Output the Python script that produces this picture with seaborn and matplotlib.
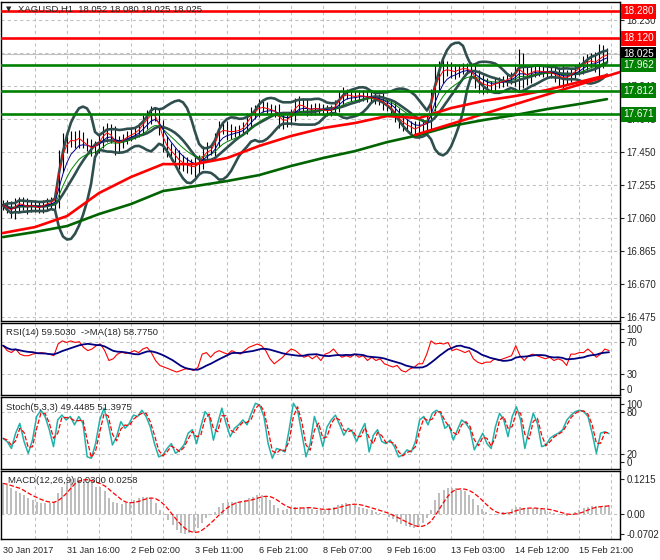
import numpy as np
import pandas as pd
import seaborn as sns
import matplotlib.pyplot as plt
from matplotlib.transforms import blended_transform_factory

# ---- price data (one bar = 2 hours) ----
close = [17.135, 17.117, 17.100, 17.129, 17.153, 17.135, 17.123, 17.135, 17.123, 17.117,
         17.135, 17.147, 17.153, 17.176, 17.401, 17.490, 17.519, 17.531, 17.513, 17.537,
         17.501, 17.484, 17.466, 17.484, 17.513, 17.560, 17.572, 17.543, 17.490, 17.501,
         17.525, 17.543, 17.555, 17.566, 17.590, 17.626, 17.655, 17.679, 17.661, 17.590,
         17.501, 17.460, 17.442, 17.419, 17.389, 17.377, 17.366, 17.360, 17.360, 17.389,
         17.442, 17.460, 17.466, 17.519, 17.590, 17.584, 17.572, 17.566, 17.572, 17.578,
         17.596, 17.637, 17.673, 17.696, 17.720, 17.714, 17.702, 17.696, 17.685, 17.643,
         17.626, 17.637, 17.673, 17.726, 17.738, 17.720, 17.702, 17.696, 17.708, 17.702,
         17.696, 17.690, 17.696, 17.726, 17.767, 17.791, 17.791, 17.779, 17.773, 17.785,
         17.779, 17.773, 17.767, 17.761, 17.756, 17.738, 17.720, 17.702, 17.667, 17.631,
         17.614, 17.602, 17.590, 17.578, 17.602, 17.614, 17.631, 17.773, 17.886, 17.915,
         17.945, 17.939, 17.927, 17.921, 17.939, 17.945, 17.939, 17.921, 17.874, 17.856,
         17.844, 17.838, 17.838, 17.856, 17.862, 17.868, 17.880, 17.891, 17.915, 17.956,
         17.909, 17.897, 17.921, 17.933, 17.927, 17.921, 17.921, 17.915, 17.903, 17.891,
         17.886, 17.891, 17.909, 17.933, 17.951, 17.974, 17.986, 17.992, 17.974, 18.004,
         18.021, 18.025]

wick = [0.03, 0.03, 0.04, 0.05, 0.03, 0.03, 0.04, 0.03, 0.03, 0.03,
        0.03, 0.03, 0.03, 0.04, 0.06, 0.07, 0.05, 0.04, 0.04, 0.04,
        0.03, 0.03, 0.04, 0.03, 0.04, 0.04, 0.05, 0.04, 0.06, 0.04,
        0.03, 0.03, 0.03, 0.03, 0.03, 0.04, 0.04, 0.04, 0.03, 0.04,
        0.05, 0.04, 0.04, 0.03, 0.04, 0.04, 0.04, 0.04, 0.06, 0.04,
        0.04, 0.05, 0.03, 0.04, 0.04, 0.03, 0.05, 0.04, 0.03, 0.03,
        0.03, 0.04, 0.04, 0.03, 0.04, 0.03, 0.03, 0.03, 0.03, 0.05,
        0.04, 0.03, 0.03, 0.04, 0.04, 0.03, 0.04, 0.03, 0.03, 0.03,
        0.03, 0.03, 0.03, 0.03, 0.04, 0.04, 0.03, 0.03, 0.03, 0.03,
        0.03, 0.03, 0.03, 0.03, 0.03, 0.04, 0.03, 0.04, 0.04, 0.04,
        0.04, 0.03, 0.03, 0.04, 0.03, 0.03, 0.04, 0.05, 0.08, 0.07,
        0.06, 0.04, 0.04, 0.04, 0.03, 0.03, 0.03, 0.04, 0.05, 0.06,
        0.05, 0.04, 0.03, 0.03, 0.03, 0.03, 0.03, 0.03, 0.05, 0.10,
        0.08, 0.05, 0.04, 0.03, 0.03, 0.03, 0.03, 0.03, 0.04, 0.05,
        0.07, 0.04, 0.03, 0.03, 0.03, 0.04, 0.04, 0.04, 0.05, 0.08,
        0.06, 0.04]

# long moving averages, one value every 8 bars (last one at the final bar)
ma_bar = [0, 8, 16, 24, 32, 40, 48, 56, 64, 72, 80, 88, 96, 104, 112, 120, 128, 136, 144, 151]
ma_red = [16.970, 17.005, 17.070, 17.206, 17.301, 17.377, 17.377, 17.413, 17.484, 17.543,
          17.590, 17.620, 17.661, 17.649, 17.708, 17.750, 17.779, 17.815, 17.862, 17.903]
ma_green = [16.946, 16.976, 17.011, 17.082, 17.141, 17.218, 17.247, 17.277, 17.312, 17.366,
            17.413, 17.454, 17.507, 17.549, 17.602, 17.637, 17.667, 17.702, 17.732, 17.761]

trend_bar = [103, 154.25]
trend_price = [17.549, 17.921]

levels_red = [18.280, 18.120]
levels_green = [17.962, 17.812, 17.671]
last_price = 18.025
price_ticks = [18.230, 18.035, 17.840, 17.645, 17.450, 17.255, 17.060, 16.865, 16.670, 16.475]

date_labels = ["30 Jan 2017", "31 Jan 16:00", "2 Feb 02:00", "3 Feb 11:00", "6 Feb 21:00",
               "8 Feb 07:00", "9 Feb 16:00", "13 Feb 03:00", "14 Feb 12:00", "15 Feb 21:00"]

# ---- indicators ----
rsi = [66, 59.5, 57, 61.6, 55, 53, 53, 55, 56, 57, 56, 55, 53, 68, 72, 70, 72, 70, 71, 63.7,
       59.5, 61.6, 65.8, 68, 59.5, 46.8, 49, 55, 57.4, 56, 57, 59.5, 57, 61.6, 63.7, 57, 46.8,
       40.5, 38.4, 36.3, 34, 32, 34, 36, 36, 34, 38, 55, 57, 51, 57, 59.5, 57, 55, 59.5, 57, 55,
       59.5, 63.7, 65.8, 68, 65.8, 59.5, 49, 42.6, 46.8, 51, 57, 61.6, 59.5, 55, 51, 53, 49, 53,
       46.8, 55, 57, 61.6, 55, 51, 53, 51, 55, 51, 53, 46.8, 51, 46.8, 49, 42.6, 40.5, 38.4,
       40.5, 34, 32, 36, 38, 42.6, 42.6, 55, 72, 68, 69, 68, 70, 59.5, 61.6, 59.5, 57, 59.5, 49,
       44.7, 42.6, 44.7, 44.7, 49, 47, 49, 51, 53, 65.8, 53, 46.8, 53, 55, 53, 51, 49, 51, 46.8,
       49, 46.8, 40.5, 55, 55, 57, 57, 61.6, 57, 51, 55, 61.6, 59.5]

stoch_k = [42.6, 37.8, 28, 50, 64, 38, 21, 40, 74, 83, 74, 55, 30.6, 69, 76, 69, 74, 62, 74, 64,
           16, 14, 35, 69, 86, 64, 33, 45, 66.6, 57, 64, 76, 74, 83, 74, 59, 35, 16, 18.6, 28,
           35, 21, 26, 33, 50, 55, 35, 59, 81, 74, 40, 64, 86, 64, 45, 57, 62, 69, 62, 78.6,
           93, 90, 74, 35, 14, 28, 26, 23, 55, 93, 83, 50, 16, 35, 74, 55, 30.6, 59, 69, 76,
           62, 47, 57, 52, 38, 52, 64, 23, 47, 55, 38, 35, 40, 30.6, 16, 18.6, 26, 23, 38, 69,
           74, 62, 78.6, 83, 78.6, 57, 62, 40, 55, 69, 64, 55, 26, 38, 50, 35, 28, 59, 78.6, 69,
           45, 74, 88, 69, 28, 55, 78.6, 64, 30.6, 33, 42.6, 47, 50, 55, 69, 76, 81, 83, 81, 74,
           50, 21, 50, 52, 49.4]

macd_hist = [0.106, 0.100, 0.089, 0.078, 0.072, 0.066, 0.054, 0.049, 0.043, 0.039,
             0.037, 0.039, 0.043, 0.072, 0.095, 0.112, 0.1215, 0.124, 0.118, 0.118,
             0.112, 0.106, 0.095, 0.095, 0.078, 0.054, 0.043, 0.037, 0.034, 0.037,
             0.043, 0.049, 0.054, 0.060, 0.060, 0.054, 0.037, 0.014, -0.0035, -0.021,
             -0.038, -0.056, -0.067, -0.0702, -0.067, -0.061, -0.050, -0.032, -0.015, -0.0035,
             0.008, 0.025, 0.037, 0.043, 0.043, 0.043, 0.043, 0.049, 0.054, 0.060,
             0.066, 0.066, 0.060, 0.049, 0.031, 0.020, 0.014, 0.016, 0.020, 0.025,
             0.025, 0.020, 0.020, 0.016, 0.014, 0.014, 0.016, 0.020, 0.025, 0.031,
             0.035, 0.037, 0.035, 0.031, 0.025, 0.020, 0.016, 0.014, 0.008, 0.002,
             -0.0035, -0.009, -0.0185, -0.027, -0.035, -0.042, -0.046, -0.050, -0.044, -0.032,
             -0.015, 0.014, 0.049, 0.074, 0.083, 0.089, 0.091, 0.089, 0.083, 0.078,
             0.066, 0.051, 0.031, 0.016, 0.005, 0.0, -0.0035, 0.0, 0.005, 0.008,
             0.016, 0.025, 0.023, 0.020, 0.016, 0.020, 0.020, 0.016, 0.014, 0.008,
             0.002, 0.0, -0.0035, -0.007, 0.0, 0.008, 0.014, 0.020, 0.025, 0.028,
             0.028, 0.025, 0.028, 0.030]

# ---- derived lines ----
bars = np.arange(len(close))
close_s = pd.Series(close)
opens = close_s.shift(1).fillna(close_s.iloc[0])
highs = np.maximum(opens, close_s) + np.array(wick)
lows = np.minimum(opens, close_s) - np.array(wick)
fast_red = close_s.ewm(span=2).mean()
fast_blue = close_s.ewm(span=5).mean()
fast_green = close_s.ewm(span=10).mean()
bb_mid = close_s.rolling(10, min_periods=1).mean()
bb_sd = close_s.rolling(10, min_periods=1).std(ddof=0)
bb_up = bb_mid + 2 * bb_sd
bb_lo = bb_mid - 2 * bb_sd

rsi_x = np.linspace(0, 151.5, len(rsi))
rsi_ma = pd.Series(rsi).rolling(8, min_periods=1).mean()
sto_x = np.linspace(0, 151.5, len(stoch_k))
stoch_d = pd.Series(stoch_k).rolling(2, min_periods=1).mean()
macd_x = np.linspace(0, 151.5, len(macd_hist))
macd_sig = pd.Series(macd_hist).rolling(5, min_periods=1).mean()

# ---- figure ----
sns.set_style("white")
plt.rcParams['font.family'] = ['Liberation Sans', 'DejaVu Sans']
FS = 6.8

W, H = 660, 560
fig = plt.figure(figsize=(6.6, 5.6), dpi=100)


def panel(top, bottom):
    return fig.add_axes([1 / W, 1 - bottom / H, 619 / W, (bottom - top) / H])


ax = panel(2, 321)
ax_rsi = panel(323, 395)
ax_sto = panel(397, 469)
ax_macd = panel(471, 539)
axes = [ax, ax_rsi, ax_sto, ax_macd]
grid_kw = dict(color='#c0c0c0', lw=0.75, ls=(0, (3, 3)), zorder=0)

for a in axes:
    a.set_xlim(-0.5, 154.25)
    for s in a.spines.values():
        s.set_color('black')
        s.set_linewidth(1)
    a.yaxis.tick_right()
    a.tick_params(axis='y', direction='out', length=3, width=0.8, labelsize=7, pad=1.5)
    for gx in range(8, 153, 8):
        a.axvline(gx, **grid_kw)
    a.set_xticks([])

# main price panel
ax.set_ylim(16.450, 18.335)
ax.set_yticks(price_ticks)
ax.set_yticklabels([f"{t:.3f}" for t in price_ticks])
for t in price_ticks:
    ax.axhline(t, **grid_kw)
ax.axhline(last_price, color='#c0c0c0', lw=0.8, zorder=1)

ax.vlines(bars, lows, highs, colors='black', linewidth=0.8, zorder=3)
for line in (bb_up, bb_mid, bb_lo):
    sns.lineplot(x=bars, y=line, ax=ax, color='#2f4f4f', linewidth=1.9, zorder=4)
sns.lineplot(x=bars, y=fast_green, ax=ax, color='#008000', linewidth=0.7, zorder=5)
sns.lineplot(x=bars, y=fast_blue, ax=ax, color='#00008b', linewidth=0.7, zorder=5)
sns.lineplot(x=bars, y=fast_red, ax=ax, color='#ff0000', linewidth=0.7, zorder=5)
sns.lineplot(x=ma_bar, y=ma_green, ax=ax, color='#006400', linewidth=1.9, zorder=6)
sns.lineplot(x=ma_bar, y=ma_red, ax=ax, color='#ff0000', linewidth=1.9, zorder=6)
sns.lineplot(x=trend_bar, y=trend_price, ax=ax, color='#ff0000', linewidth=1.9, zorder=6)

for lv in levels_red:
    ax.axhline(lv, color='#ff0000', lw=1.9, zorder=7)
for lv in levels_green:
    ax.axhline(lv, color='#008000', lw=1.9, zorder=7)

tr = blended_transform_factory(ax.transAxes, ax.transData)
tags = [(lv, '#ff0000') for lv in levels_red] + [(last_price, 'black')] + \
       [(lv, '#008000') for lv in levels_green]
for lv, col in tags:
    ax.text(1.005, lv, f"{lv:.3f}", transform=tr, ha='left', va='center', color='white',
            fontsize=7.2, zorder=10,
            bbox=dict(boxstyle='square,pad=0.22', fc=col, ec='none'))

ax.text(0.008, 1 - 7 / 319, "\u25bc", transform=ax.transAxes, fontsize=5, va='center',
        family='DejaVu Sans', zorder=9)
ax.text(0.027, 1 - 7 / 319, "XAGUSD,H1  18.052 18.080 18.025 18.025",
        transform=ax.transAxes, fontsize=FS, va='center', zorder=9)

# RSI panel
ax_rsi.set_ylim(2.5, 95)
ax_rsi.set_yticks([87.5, 70, 30, 10])
ax_rsi.set_yticklabels(['100', '70', '30', '0'])
for t in (70, 30):
    ax_rsi.axhline(t, **grid_kw)
sns.lineplot(x=rsi_x, y=rsi, ax=ax_rsi, color='#ff0000', linewidth=0.8)
sns.lineplot(x=rsi_x, y=rsi_ma, ax=ax_rsi, color='#000080', linewidth=1.3)
ax_rsi.text(0.008, 0.87, "RSI(14) 59.5030  ->MA(18) 58.7750", transform=ax_rsi.transAxes,
            fontsize=FS, va='center')

# Stochastic panel
ax_sto.set_ylim(-1.5, 102)
ax_sto.set_yticks([92, 80, 20, 8.5])
ax_sto.set_yticklabels(['100', '80', '20', '0'])
for t in (80, 20):
    ax_sto.axhline(t, **grid_kw)
sns.lineplot(x=sto_x, y=stoch_k, ax=ax_sto, color='#20b2aa', linewidth=1.1)
sns.lineplot(x=sto_x, y=stoch_d, ax=ax_sto, color='#ff0000', linewidth=0.9, linestyle='--')
ax_sto.text(0.008, 0.86, "Stoch(5,3,3) 49.4485 51.3975", transform=ax_sto.transAxes,
            fontsize=FS, va='center')

# MACD panel
ax_macd.set_ylim(-0.087, 0.149)
ax_macd.set_yticks([0.1215, 0.0, -0.0702])
ax_macd.set_yticklabels(['0.1215', '0.00', '-0.0702'])
ax_macd.axhline(0, **grid_kw)
ax_macd.vlines(macd_x, 0, macd_hist, colors='#b8b8b8', linewidth=1.3, zorder=2)
sns.lineplot(x=macd_x, y=macd_sig, ax=ax_macd, color='#ff0000', linewidth=0.9, linestyle='--')
ax_macd.text(0.012, 0.86, "MACD(12,26,9) 0.0300 0.0258", transform=ax_macd.transAxes,
             fontsize=FS, va='center')

date_bars = list(range(0, 145, 16))
ax_macd.set_xticks(date_bars)
ax_macd.set_xticklabels(date_labels, ha='left')
ax_macd.tick_params(axis='x', direction='out', length=4, width=0.8, labelsize=6.6, pad=1)

for a in axes:
    a.set_xlabel('')
    a.set_ylabel('')
    if a.get_legend():
        a.get_legend().remove()

fig.savefig("out.png", dpi=100)
plt.close(fig)
